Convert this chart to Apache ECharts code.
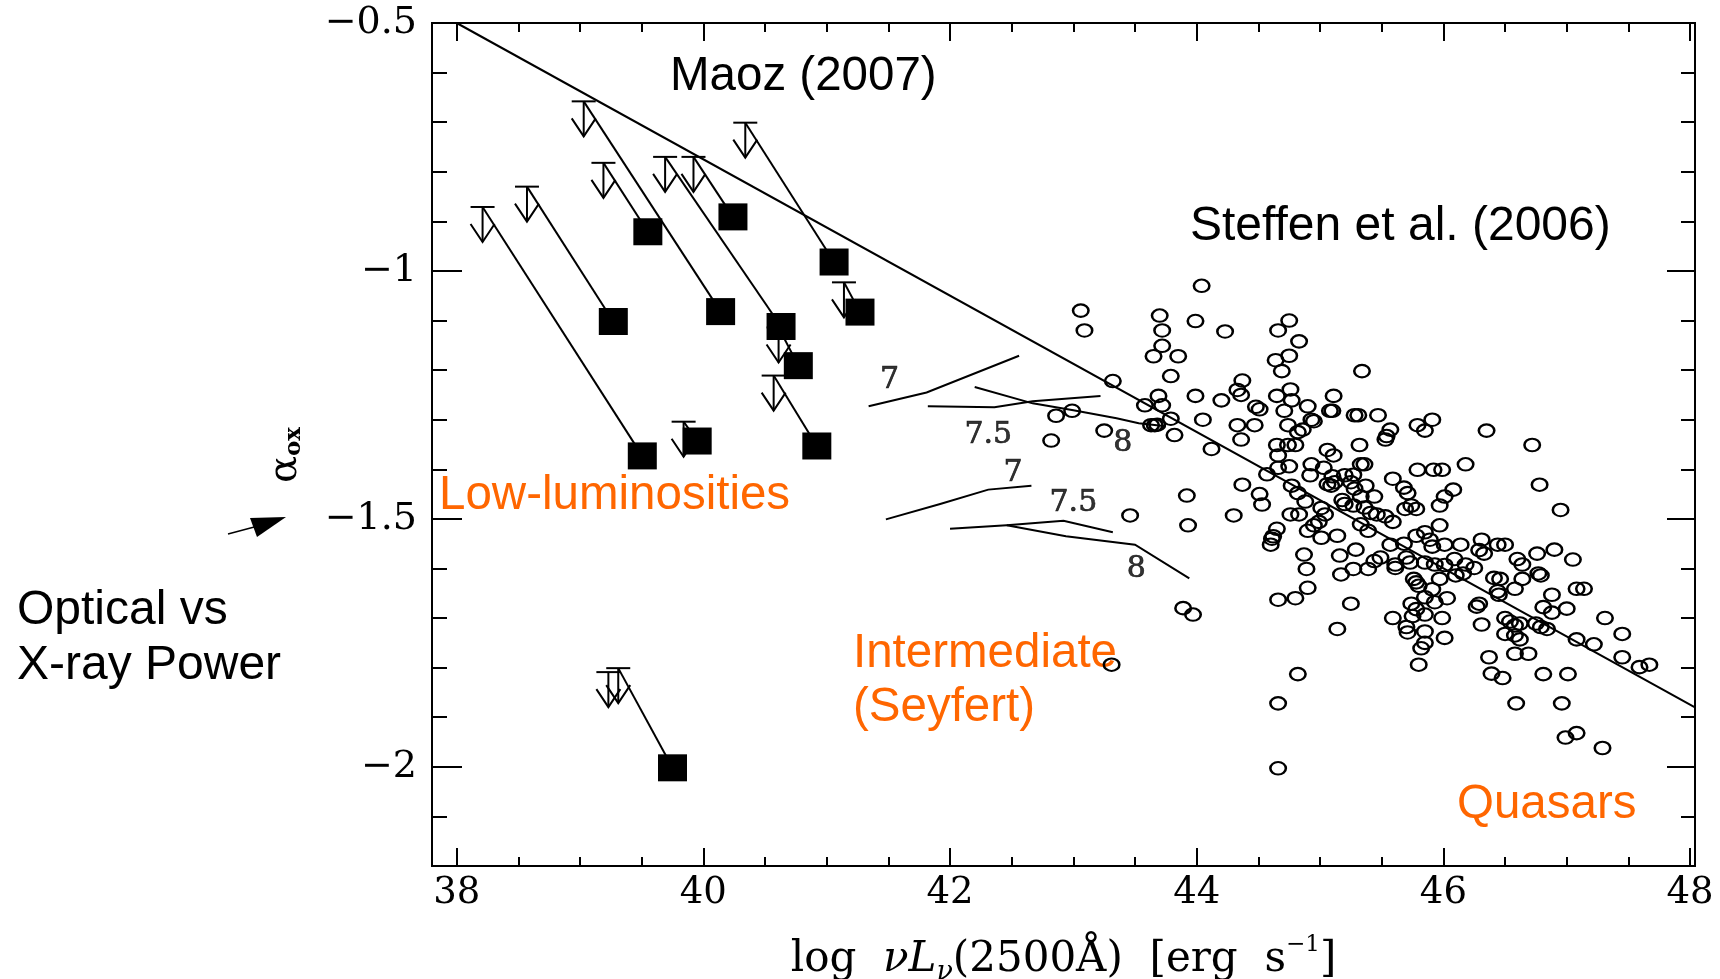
<!DOCTYPE html>
<html><head><meta charset="utf-8">
<script src="https://cdn.jsdelivr.net/npm/echarts@6/dist/echarts.min.js"></script>
<style>html,body{margin:0;padding:0;background:#fff}#c{width:1720px;height:979px}</style>
</head><body><div id="c"></div>
<script>
// ---------- tick values ----------
const xMajorTicks = [38, 40, 42, 44, 46, 48];
const xAllTicks = [38, 38.5, 39, 39.5, 40, 40.5, 41, 41.5, 42, 42.5, 43, 43.5, 44, 44.5, 45, 45.5, 46, 46.5, 47, 47.5, 48];
const yMajorTicks = [-2, -1.5, -1, -0.5];
const yAllTicks = [-2.1, -2, -1.9, -1.8, -1.7, -1.6, -1.5, -1.4, -1.3, -1.2, -1.1, -1, -0.9, -0.8, -0.7, -0.6, -0.5];

// ---------- Maoz (2007): upper limits (arrows) and detections (squares) ----------
const maozLimits = [
  [38.21, -0.871], [38.57, -0.830], [39.03, -0.658], [39.19, -0.782], [39.69, -0.770],
  [39.92, -0.770], [40.34, -0.701], [41.14, -1.023], [40.61, -1.114], [40.57, -1.211],
  [39.84, -1.304], [39.31, -1.801], [39.23, -1.809]
];
const maozDetections = [
  [39.505, -1.373], [39.27, -1.102], [40.14, -1.082], [39.55, -0.921], [40.63, -1.112],
  [40.24, -0.891], [41.06, -0.982], [41.27, -1.083], [40.77, -1.191], [40.92, -1.353],
  [39.95, -1.343], [39.75, -2.002]
];
// pairs: [limit index, detection index]
const maozLinks = [[0,0],[1,1],[2,2],[3,3],[4,4],[5,5],[6,6],[7,7],[8,8],[9,9],[10,10],[11,11]];

// ---------- Steffen et al. (2006) relation ----------
const steffenFit = [[38, -0.5], [48.04, -1.88]];

// ---------- model tracks ----------
const trackUpper7 = [[41.34, -1.273], [41.81, -1.245], [42.56, -1.171]];
const trackUpper75 = [[41.82, -1.273], [42.36, -1.275], [42.67, -1.263], [43.22, -1.252]];
const trackUpper8 = [[42.20, -1.234], [42.67, -1.267], [43.00, -1.281], [43.35, -1.297], [43.53, -1.307], [43.75, -1.313]];
const trackLower7 = [[41.48, -1.501], [41.92, -1.470], [42.31, -1.441], [42.66, -1.433]];
const trackLower75 = [[42.00, -1.520], [42.46, -1.513], [42.92, -1.504], [43.32, -1.527]];
const trackLower8 = [[42.46, -1.513], [42.94, -1.535], [43.50, -1.552], [43.94, -1.620]];
const trackLabels = [
  [41.51, -1.220, '7'], [42.31, -1.331, '7.5'], [43.40, -1.347, '8'],
  [42.51, -1.408, '7'], [43.00, -1.468, '7.5'], [43.51, -1.601, '8']
];

// ---------- Steffen et al. (2006) sample ----------
const steffenPoints = [
[44.04,-1.030],[43.06,-1.080],[43.09,-1.120],[43.70,-1.090],[43.72,-1.120],[43.72,-1.151],[43.65,-1.172],[43.85,-1.172],[43.99,-1.101],[44.23,-1.122],[44.66,-1.120],[44.75,-1.100],[44.83,-1.142],[44.64,-1.180],[44.75,-1.171],[44.69,-1.202],
[43.32,-1.222],[43.79,-1.212],[45.34,-1.202],[44.37,-1.221],[44.33,-1.240],[44.36,-1.250],[43.99,-1.252],[44.20,-1.261],[43.69,-1.252],[43.58,-1.271],[43.72,-1.271],[44.65,-1.252],[44.76,-1.239],[44.77,-1.261],[44.71,-1.282],[44.48,-1.274],[44.51,-1.279],[44.90,-1.273],[45.11,-1.252],[45.10,-1.282],[45.08,-1.282],[45.28,-1.291],[45.31,-1.291],[45.47,-1.291],[42.99,-1.282],[42.86,-1.292],[43.63,-1.311],[43.66,-1.311],[43.68,-1.310],[43.79,-1.298],[44.05,-1.300],[44.33,-1.311],[44.47,-1.311],[44.74,-1.311],[44.86,-1.320],[44.82,-1.325],[44.93,-1.300],[44.95,-1.303],[45.79,-1.311],[45.91,-1.300],[45.85,-1.322],[45.57,-1.320],[45.54,-1.333],[45.53,-1.340],[46.35,-1.322],
[42.82,-1.342],[43.25,-1.322],[43.82,-1.331],[44.12,-1.359],[44.36,-1.340],[44.65,-1.351],[44.74,-1.351],[44.66,-1.372],[44.80,-1.351],[44.57,-1.410],[44.66,-1.397],[44.75,-1.394],[45.06,-1.361],[45.11,-1.372],[45.32,-1.351],[44.93,-1.390],[45.03,-1.397],[44.92,-1.412],[45.10,-1.414],[45.20,-1.412],[45.27,-1.411],[45.06,-1.430],[45.09,-1.433],[45.12,-1.426],[45.33,-1.390],[45.36,-1.390],[45.79,-1.401],[45.92,-1.401],[45.99,-1.401],[46.18,-1.390],[46.72,-1.351],[44.37,-1.431],[44.77,-1.433],[44.82,-1.448],[44.88,-1.465],[45.25,-1.426],[45.28,-1.439],[45.33,-1.455],[45.37,-1.433],[45.44,-1.455],[45.59,-1.419],[45.68,-1.437],[45.71,-1.448],[46.08,-1.441],[46.01,-1.455],[45.97,-1.473],[46.78,-1.431],[43.92,-1.453],[44.51,-1.450],[44.53,-1.471],
[46.95,-1.482],[43.46,-1.493],[44.30,-1.493],[44.76,-1.491],[44.83,-1.491],[45.01,-1.478],[45.04,-1.491],[44.99,-1.506],[44.95,-1.513],[45.18,-1.462],[45.20,-1.470],[45.27,-1.473],[45.36,-1.477],[45.41,-1.488],[45.46,-1.491],[45.53,-1.495],[45.59,-1.506],[45.69,-1.480],[45.74,-1.473],[45.78,-1.480],[45.33,-1.511],[45.39,-1.524],[43.93,-1.513],[44.65,-1.520],[44.61,-1.540],[44.60,-1.552],[44.62,-1.535],[44.90,-1.524],[45.01,-1.538],[45.14,-1.534],[45.57,-1.552],[45.68,-1.550],[45.78,-1.534],[45.85,-1.527],[45.89,-1.542],[45.97,-1.513],[45.91,-1.556],[46.01,-1.552],[46.14,-1.552],[46.31,-1.542],[46.44,-1.552],[46.50,-1.552],[46.29,-1.563],[46.33,-1.570],[46.09,-1.581],[46.60,-1.581],[46.64,-1.592],[46.76,-1.570],[46.90,-1.562],[47.05,-1.582],[44.87,-1.572],[45.16,-1.574],[45.29,-1.562],[45.49,-1.578],[45.44,-1.585],[45.61,-1.592],[45.61,-1.599],[45.70,-1.578],[45.73,-1.588],[45.85,-1.588],[45.93,-1.592],[46.01,-1.593],[46.18,-1.592],[46.25,-1.599],[46.16,-1.610],
[44.89,-1.601],[45.17,-1.612],[45.27,-1.601],[45.39,-1.601],[46.10,-1.614],[46.41,-1.619],[46.46,-1.621],[46.77,-1.610],[46.79,-1.614],[46.64,-1.621],[45.76,-1.621],[45.78,-1.628],[45.80,-1.635],[45.91,-1.642],[45.97,-1.621],[46.44,-1.646],[46.45,-1.653],[46.58,-1.641],[46.88,-1.653],[47.08,-1.641],[47.14,-1.641],[44.90,-1.639],[44.66,-1.663],[44.80,-1.660],[45.85,-1.658],[45.93,-1.668],[46.03,-1.660],[45.74,-1.671],[45.78,-1.682],[45.25,-1.671],[46.27,-1.677],[46.29,-1.671],[46.81,-1.678],[46.88,-1.689],[47.00,-1.681],[45.85,-1.693],[45.99,-1.700],[45.75,-1.696],[46.50,-1.700],[46.54,-1.707],[46.58,-1.715],[46.62,-1.711],[47.31,-1.700],[45.59,-1.700],[45.14,-1.722],[45.70,-1.718],[45.71,-1.729],[45.85,-1.727],[46.31,-1.713],[46.75,-1.711],[46.79,-1.718],[46.84,-1.722],[46.50,-1.732],[46.58,-1.735],[46.62,-1.743],[46.01,-1.740],[47.08,-1.743],[47.22,-1.753],[47.45,-1.732],
[45.85,-1.750],[45.82,-1.761],[45.80,-1.794],[46.37,-1.779],[46.39,-1.812],[46.48,-1.821],[46.58,-1.772],[46.69,-1.772],[47.45,-1.779],[47.59,-1.799],[47.67,-1.794],[43.31,-1.794],[44.82,-1.813],[46.81,-1.813],[47.01,-1.813],[44.66,-1.872],[46.59,-1.872],[46.96,-1.872],[46.99,-1.941],[47.08,-1.932],[47.29,-1.962],[44.66,-2.003],[43.89,-1.680],[43.97,-1.693]
];

// ---------- chart ----------
const XMIN = 37.8, XMAX = 48.04, YMIN = -2.2, YMAX = -0.5;
const SERIF = 'DejaVu Serif';
const SANS = 'Liberation Sans';
const ORANGE = '#FF6600';
const fmtY = v => (v < 0 ? '\u2212' : '') + Math.abs(v);

function xAx(position, ticks, len, withLabels, extra) {
  return Object.assign({
    type: 'value', position, min: XMIN, max: XMAX, gridIndex: 0,
    axisLine: { show: true, onZero: false, lineStyle: { color: '#000', width: 2 } },
    axisTick: { show: true, inside: true, length: len, customValues: ticks, lineStyle: { color: '#000', width: 2 } },
    axisLabel: withLabels ? { show: true, customValues: xMajorTicks, margin: 9, color: '#000', fontFamily: SERIF, fontSize: 37 } : { show: false },
    splitLine: { show: false }, minorTick: { show: false }
  }, extra || {});
}
function yAx(position, ticks, len, withLabels) {
  return {
    type: 'value', position, min: YMIN, max: YMAX, gridIndex: 0,
    axisLine: { show: true, onZero: false, lineStyle: { color: '#000', width: 2 } },
    axisTick: { show: true, inside: true, length: len, customValues: ticks, lineStyle: { color: '#000', width: 2 } },
    axisLabel: withLabels ? { show: true, customValues: yMajorTicks, margin: 15, color: '#000', fontFamily: SERIF, fontSize: 38, formatter: fmtY } : { show: false },
    splitLine: { show: false }, minorTick: { show: false }
  };
}

const option = {
  animation: false,
  backgroundColor: '#fff',
  grid: { left: 432, right: 25, top: 23, bottom: 113, containLabel: false, outerBoundsMode: 'none' },
  xAxis: [
    xAx('bottom', xMajorTicks, 18, true, {
      name: '{n|log  }{i|\u03BDL}{s|\u03BD}{n|(2500\u00C5)  [erg  s}{p|\u22121}{n|]}',
      nameLocation: 'middle', nameGap: 68,
      nameTextStyle: { rich: {
        n: { fontFamily: SERIF, fontSize: 42, color: '#000', lineHeight: 52 },
        i: { fontFamily: SERIF, fontSize: 42, fontStyle: 'italic', color: '#000', lineHeight: 52 },
        s: { fontFamily: SERIF, fontSize: 27, fontStyle: 'italic', color: '#000', verticalAlign: 'bottom', lineHeight: 52 },
        p: { fontFamily: SERIF, fontSize: 23, color: '#000', verticalAlign: 'top', lineHeight: 52 }
      } }
    }),
    xAx('bottom', xAllTicks, 9, false),
    xAx('top', xMajorTicks, 18, false),
    xAx('top', xAllTicks, 9, false)
  ],
  yAxis: [
    yAx('left', yMajorTicks, 30, true),
    yAx('left', yAllTicks, 15, false),
    yAx('right', yMajorTicks, 28, false),
    yAx('right', yAllTicks, 14, false)
  ],
  series: [
    { type: 'line', data: steffenFit, showSymbol: false, symbol: 'none', silent: true,
      lineStyle: { color: '#000', width: 2 }, z: 2 },
    { type: 'lines', coordinateSystem: 'cartesian2d', polyline: true, silent: true,
      lineStyle: { color: '#000', width: 2, opacity: 1 },
      data: [trackUpper7, trackUpper75, trackUpper8, trackLower7, trackLower75, trackLower8].map(c => ({ coords: c })), z: 2 },
    { type: 'scatter', data: trackLabels, symbolSize: 0, silent: true,
      label: { show: true, position: 'inside', formatter: p => p.value[2], color: '#000', fontFamily: SERIF, fontSize: 30,
        textBorderColor: '#000', textBorderWidth: 0.7 }, z: 3 },
    { type: 'scatter', data: steffenPoints, symbol: 'circle', symbolSize: [15.5, 12.5], silent: true,
      itemStyle: { color: 'rgba(255,255,255,0)', borderColor: '#000', borderWidth: 2.3, opacity: 1 }, z: 4 },
    { type: 'lines', coordinateSystem: 'cartesian2d', silent: true,
      lineStyle: { color: '#000', width: 2, opacity: 1 },
      data: maozLinks.map(([a, b]) => ({ coords: [maozLimits[a], maozDetections[b]] })), z: 5 },
    { type: 'custom', data: maozLimits, silent: true, z: 6,
      renderItem: (params, api) => {
        const p = api.coord([api.value(0), api.value(1)]);
        const w = 12, h = 35, hh = 18;
        const st = { stroke: '#000', lineWidth: 2, fill: null };
        return { type: 'group', children: [
          { type: 'line', shape: { x1: p[0] - w, y1: p[1], x2: p[0] + w, y2: p[1] }, style: st },
          { type: 'line', shape: { x1: p[0], y1: p[1], x2: p[0], y2: p[1] + h }, style: st },
          { type: 'polyline', shape: { points: [[p[0] - w, p[1] + h - hh], [p[0], p[1] + h], [p[0] + w, p[1] + h - hh]] }, style: st }
        ] };
      } },
    { type: 'scatter', data: maozDetections, symbol: 'rect', symbolSize: [29, 27], silent: true,
      itemStyle: { color: '#000', opacity: 1 }, z: 7 }
  ],
  graphic: [
    { type: 'text', x: 670, y: 77, style: { text: 'Maoz (2007)', fontFamily: SANS, fontSize: 47.5, fill: '#000', verticalAlign: 'middle' } },
    { type: 'text', x: 1190, y: 227, style: { text: 'Steffen et al. (2006)', fontFamily: SANS, fontSize: 48, fill: '#000', verticalAlign: 'middle' } },
    { type: 'text', x: 439, y: 496, style: { text: 'Low-luminosities', fontFamily: SANS, fontSize: 47.5, fill: ORANGE, verticalAlign: 'middle' } },
    { type: 'text', x: 853, y: 654, style: { text: 'Intermediate', fontFamily: SANS, fontSize: 47.5, fill: ORANGE, verticalAlign: 'middle' } },
    { type: 'text', x: 853, y: 708, style: { text: '(Seyfert)', fontFamily: SANS, fontSize: 47.5, fill: ORANGE, verticalAlign: 'middle' } },
    { type: 'text', x: 1457, y: 805, style: { text: 'Quasars', fontFamily: SANS, fontSize: 47.5, fill: ORANGE, verticalAlign: 'middle' } },
    { type: 'text', x: 17, y: 611, style: { text: 'Optical vs', fontFamily: SANS, fontSize: 48, fill: '#000', verticalAlign: 'middle' } },
    { type: 'text', x: 17, y: 666, style: { text: 'X-ray Power', fontFamily: SANS, fontSize: 48, fill: '#000', verticalAlign: 'middle' } },
    { type: 'text', x: 284, y: 455, rotation: Math.PI / 2,
      style: { text: '{a|\u03B1}{s|ox}', align: 'center', verticalAlign: 'middle',
        rich: { a: { fontFamily: SERIF, fontSize: 40, fill: '#000', verticalAlign: 'bottom', lineHeight: 44 },
                s: { fontFamily: SERIF, fontSize: 23, fontWeight: 'bold', fill: '#000', verticalAlign: 'bottom', lineHeight: 44 } } } },
    { type: 'line', shape: { x1: 228, y1: 534, x2: 258, y2: 526 }, style: { stroke: '#000', lineWidth: 1.5 } },
    { type: 'polygon', shape: { points: [[286, 517], [250, 518], [257, 537]] }, style: { fill: '#000' } }
  ]
};
const chart = echarts.init(document.getElementById('c'));
chart.setOption(option);
</script>
</body></html>
